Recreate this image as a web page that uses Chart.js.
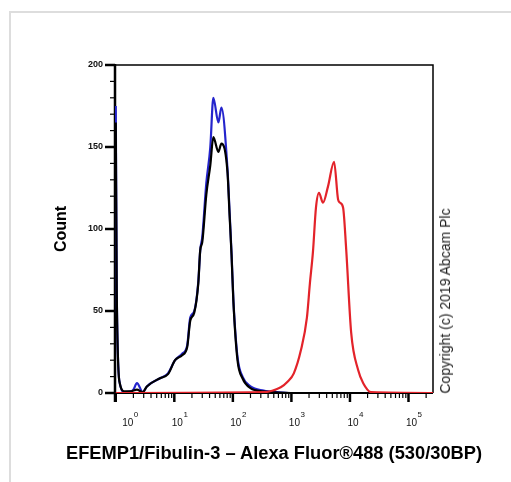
<!DOCTYPE html>
<html>
<head>
<meta charset="utf-8">
<script src="https://cdn.jsdelivr.net/npm/chart.js@4/dist/chart.umd.min.js"></script>
<style>
  html, body { margin: 0; padding: 0; background: #fff; }
  #wrap { position: relative; width: 511px; height: 482px; overflow: hidden; }
  #frame { position: absolute; left: 9px; top: 11px; width: 600px; height: 600px;
           border-top: 2px solid #dddddd; border-left: 2px solid #dddddd; }
  #copy { position: absolute; left: 445px; top: 301px; transform: translate(-50%, -50%) rotate(-90deg);
          white-space: nowrap; font: 14px "Liberation Sans", Arial, sans-serif; color: #222; }
  #xtitle { position: absolute; left: 274px; top: 453px; transform: translate(-50%, -50%);
          white-space: nowrap; font: bold 18.3px "Liberation Sans", Arial, sans-serif; color: #000; }
  canvas { position: absolute; left: 0; top: 0; }
</style>
</head>
<body>
<div id="wrap">
  <div id="frame"></div>
  <canvas id="c" width="511" height="482"></canvas>
  <div id="copy">Copyright (c) 2019 Abcam Plc</div>
  <div id="xtitle"></div>
</div>
<script>
// Fluorescence channel values (x) and event counts (y)
const controlX = [1.0, 1.04, 1.17, 1.43, 1.8, 2.0, 2.3, 2.9, 3.4, 5.7, 7.8, 10.3, 13.6, 16.6, 18.7, 21.9, 25.7, 27.7, 30, 35.2, 41.2, 46.4, 56.6, 63.7, 80.8, 88, 95, 102, 120, 146, 200, 336, 584, 975, 262144];
const blueCounts  = [175, 60, 6, 0.5, 1, 2, 6, 0.5, 4, 9, 12, 20, 24, 29, 46, 50, 68, 87, 95, 128, 150, 180, 165, 174, 137, 110, 85, 57, 22, 10, 4, 1.5, 0.5, 0, 0];
const blackCounts = [165, 60, 6, 1, 1, 1.5, 2, 0.5, 4, 9, 11.5, 20, 23, 28, 44, 49, 67, 87, 92, 121, 139, 156, 147, 152, 135, 108, 84, 56, 20, 9, 3, 1, 0.3, 0, 0];
const stainedX = [1, 336, 658, 867, 1099, 1451, 1840, 2071, 2333, 2627, 2958, 3465, 4220, 5352, 6270, 6790, 7640, 8610, 10480, 13800, 16860, 23100, 262144];
const redCounts = [0, 0.5, 3.5, 7, 12, 26, 46, 67, 86, 113, 122, 116, 126, 141, 118, 116, 113, 88, 37, 14, 6, 0.5, 0];

const yMajorTicks = [0, 50, 100, 150, 200];
const xMajorTicks = [1, 10, 100, 1000, 10000, 100000];
const xTickBase = '10';
const xTickExponents = ['0', '1', '2', '3', '4', '5'];
const xTitle = 'EFEMP1/Fibulin-3 – Alexa Fluor®488 (530/30BP)';
const yTitle = 'Count';

document.getElementById('xtitle').textContent = xTitle;

const FONT = '"Liberation Sans", Arial, sans-serif';
const toPts = (xs, ys) => xs.map((x, i) => ({ x: x, y: ys[i] }));

const boxPlugin = {
  id: 'box',
  beforeDatasetsDraw(chart) {
    const { ctx, chartArea: { left, right, top, bottom }, scales: { x, y } } = chart;
    ctx.save();
    ctx.strokeStyle = '#000';
    ctx.lineWidth = 1.5;
    ctx.beginPath(); ctx.moveTo(left, top); ctx.lineTo(right, top); ctx.lineTo(right, bottom); ctx.stroke();
    ctx.lineWidth = 2;
    ctx.beginPath(); ctx.moveTo(left, bottom); ctx.lineTo(right, bottom); ctx.stroke();
    ctx.lineWidth = 2.5;
    ctx.beginPath(); ctx.moveTo(left, top - 1); ctx.lineTo(left, bottom + 9); ctx.stroke();
    for (let v = 0; v <= 200; v += 10) {
      const py = y.getPixelForValue(v);
      const major = yMajorTicks.includes(v);
      ctx.lineWidth = major ? 2.5 : 1.2;
      ctx.beginPath(); ctx.moveTo(left - (major ? 10 : 5), py); ctx.lineTo(left, py); ctx.stroke();
    }
    xMajorTicks.forEach(d => {
      for (let m = 1; m <= 9; m++) {
        const v = m * d;
        if (v > x.max) break;
        const px = x.getPixelForValue(v);
        ctx.lineWidth = m === 1 ? 2.5 : 1.2;
        ctx.beginPath(); ctx.moveTo(px, bottom); ctx.lineTo(px, bottom + (m === 1 ? 9 : 5)); ctx.stroke();
      }
    });
    ctx.restore();
  },
  afterDraw(chart) {
    const { ctx, chartArea: { bottom }, scales: { x } } = chart;
    ctx.save();
    ctx.fillStyle = '#111';
    ctx.textBaseline = 'alphabetic';
    xMajorTicks.forEach((v, i) => {
      const px = x.getPixelForValue(v) + (i === 0 ? 12 : 3);
      ctx.font = '10px ' + FONT;
      ctx.textAlign = 'center';
      ctx.fillText(xTickBase, px, bottom + 33);
      const w = ctx.measureText(xTickBase).width;
      ctx.font = '8px ' + FONT;
      ctx.textAlign = 'left';
      ctx.fillText(xTickExponents[i], px + w / 2 + 0.5, bottom + 24);
    });
    ctx.restore();
  }
};

new Chart(document.getElementById('c'), {
  type: 'line',
  data: {
    datasets: [
      { label: 'Stained', data: toPts(stainedX, redCounts), borderColor: '#e3232a' },
      { label: 'Control', data: toPts(controlX, blackCounts), borderColor: '#000000' },
      { label: 'Isotype', data: toPts(controlX, blueCounts), borderColor: '#2424cc' }
    ]
  },
  options: {
    responsive: false,
    animation: false,
    devicePixelRatio: 1,
    layout: { padding: { left: 0, top: 65, right: 78, bottom: 0 } },
    elements: {
      line: { borderWidth: 2.2, cubicInterpolationMode: 'monotone', fill: false },
      point: { radius: 0 }
    },
    plugins: { legend: { display: false }, tooltip: { enabled: false } },
    scales: {
      x: {
        type: 'logarithmic',
        min: 0.97,
        max: 262144,
        grid: { display: false, drawTicks: false },
        border: { display: false },
        afterBuildTicks: s => { s.ticks = xMajorTicks.map(v => ({ value: v })); },
        afterFit: s => { s.height = 89; },
        ticks: { display: false },
        title: { display: false, text: xTitle }
      },
      y: {
        min: 0, max: 200,
        grid: { display: false, drawTicks: false },
        border: { display: false },
        afterBuildTicks: s => { s.ticks = yMajorTicks.map(v => ({ value: v })); },
        afterFit: s => { s.width = 115; },
        ticks: {
          padding: 12, color: '#111',
          font: { family: FONT, size: 9, weight: 'bold' }
        },
        title: {
          display: true, text: yTitle, color: '#000',
          font: { family: FONT, size: 16, weight: 'bold' },
          padding: { top: 52, bottom: 0 }
        }
      }
    }
  },
  plugins: [boxPlugin]
});
</script>
</body>
</html>
